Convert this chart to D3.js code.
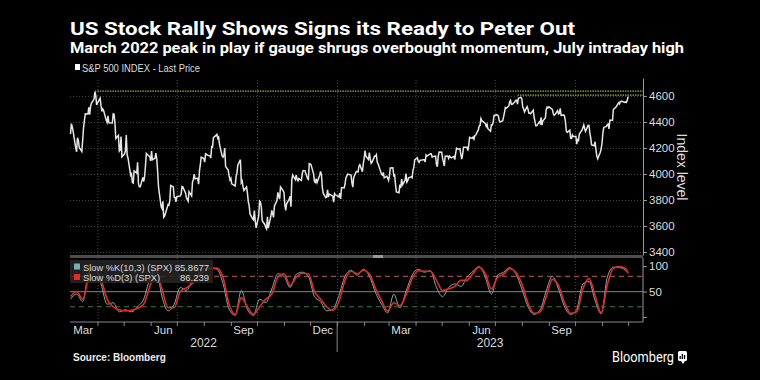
<!DOCTYPE html>
<html>
<head>
<meta charset="utf-8">
<script src="https://cdn.jsdelivr.net/npm/d3@7"></script>
<style>
    body { margin: 0; background: #000; }
    svg { display: block; background: #000; font-family: "Liberation Sans", Arial, sans-serif; }
</style>
</head>
<body>
<svg width="760" height="380"></svg>
<script>
// ---- data ----
const priceStart = "2022-03-01";
const holidays = ["2022-04-15", "2022-05-30", "2022-06-20", "2022-07-04", "2022-09-05",
    "2022-11-24", "2022-12-26", "2023-01-02", "2023-01-16", "2023-02-20", "2023-04-07",
    "2023-05-29", "2023-06-19", "2023-07-04", "2023-09-04", "2023-11-23"];

// S&P 500 daily closes, one row per month
const closes = [
    4306,4387,4363,4329,4201,4171,4278,4260,4204,4173,4262,4358,4412,4463,4461,4512,4456,4520,4543,4576,4632,4602,4530,
    4546,4583,4525,4481,4500,4488,4413,4397,4447,4393,4392,4462,4459,4394,4272,4296,4175,4184,4288,4132,
    4155,4175,4300,4147,4123,3991,4001,3935,3930,4024,4008,4089,3924,3901,3901,3974,3941,3979,4058,4158,4132,
    4101,4177,4109,4121,4161,4116,4018,3901,3750,3735,3790,3667,3675,3765,3760,3796,3912,3900,3822,3819,3785,
    3825,3831,3845,3903,3899,3854,3819,3802,3790,3863,3831,3937,3960,3999,3962,3967,3921,4024,4072,4130,
    4119,4091,4155,4152,4145,4140,4122,4210,4207,4280,4297,4305,4274,4284,4228,4138,4129,4141,4199,4058,4031,3986,3955,
    3967,3924,3908,3980,4006,4067,4110,3933,3946,3901,3873,3900,3856,3790,3758,3693,3655,3647,3719,3640,3586,
    3678,3791,3783,3745,3640,3612,3589,3577,3670,3583,3678,3720,3695,3666,3753,3797,3859,3831,3807,3901,3872,
    3856,3760,3720,3771,3807,3828,3749,3956,3993,3957,3992,3959,3947,3965,3950,4004,4027,4026,3964,3958,4080,
    4077,4072,3999,3941,3934,3964,3934,3991,4020,3995,3896,3852,3818,3822,3878,3822,3845,3829,3783,3849,3840,
    3824,3853,3808,3895,3892,3919,3970,3983,3999,3991,3929,3899,3973,4020,4017,4016,4060,4071,4018,4077,
    4119,4180,4136,4111,4164,4118,4082,4090,4137,4136,4148,4090,4079,3997,3991,4012,3970,3982,3970,
    3951,3981,4046,4048,3986,3992,3918,3862,3856,3919,3892,3960,3917,3952,4003,3937,3949,3971,3978,3971,4028,4051,4109,
    4125,4101,4090,4105,4109,4109,4092,4146,4138,4151,4155,4155,4130,4134,4137,4072,4056,4135,4169,
    4168,4120,4091,4061,4136,4138,4119,4138,4131,4124,4136,4110,4159,4198,4192,4193,4146,4115,4151,4205,4206,4180,
    4221,4282,4274,4284,4268,4294,4299,4339,4369,4373,4426,4410,4389,4366,4382,4348,4329,4378,4377,4396,4450,
    4456,4447,4412,4399,4410,4439,4472,4510,4505,4523,4555,4566,4535,4536,4555,4567,4567,4537,4582,4589,
    4577,4513,4502,4478,4518,4499,4468,4469,4464,4490,4438,4404,4370,4370,4400,4388,4436,4376,4406,4433,4498,4515,4508,
    4516,4497,4465,4451,4457,4487,4462,4467,4505,4450,4454,4444,4402,4330,4320,4337,4274,4275,4300,4288,
    4288,4229,4264,4258,4309,4336,4358,4377,4350,4328,4374,4373,4315,4278,4224,4217,4248,4187,4137,4117,4167,4194,
    4238,4318,4358,4366,4378,4383,4347,4415,4412,4496,4503,4508,4514,4547,4538,4557,4559,4550,4555,4551,4568,
    4595
];

const stochStart = "2022-03-01";
const stochLast = "2023-12-01";
const slowD = [40,50,35,80,95,75,35,20,14,12, 13,17,25,60,92,55,18,18,50,57,
    66,80,92,95,96,78,25,5,38,20, 5,20,35,45,78,85,62,78,86,85,
    50,35,20,13,30,72,90,85,92,85, 56,32,12,28,22,43,75,91,90,90,
    72,52,55,60,72,72,86,98,85,55, 78,84,95,88,65,27,7,10,40,74,
    62,28,7,10,55,76,42,8,63,96, 99,95,86.2];
const slowK = [35,45,30,88,96,65,25,28,10,14, 10,20,35,75,95,40,12,25,58,52,
    72,86,95,96,94,66,15,3,52,15, 3,35,28,55,85,80,58,84,88,80,
    40,30,12,15,42,80,92,82,94,80, 48,25,8,45,18,50,82,94,88,91,
    58,40,58,65,60,78,90,99,78,45, 82,88,97,85,55,20,5,14,52,80,
    55,20,5,15,65,70,32,6,78,98, 97,92,85.9];

const yTicks = [3400, 3600, 3800, 4000, 4200, 4400, 4600];
const oscTicks = [0, 50, 100];
const oscLevels = [80, 50, 20];
const marchPeak = { date: "2022-03-29", value: 4637 };
const julyHigh = { date: "2023-07-27", value: 4607 };
const years = ["2022", "2023"];

// ---- layout ----
let svg = d3.select("svg");
const X0 = 70, X1 = 643;
const TOP = 78, SEP = 255, LOW_TOP = 258, LOW_BOT = 322;

let parse = d3.utcParse("%Y-%m-%d");
let fmt = d3.utcFormat("%Y-%m-%d");

let x = d3.scaleUtc()
    .domain([parse("2022-03-01"), parse("2023-12-18")])
    .range([70.5, X1]);
let y = d3.scaleLinear().domain([3377, 4738]).range([SEP, TOP]);
let yo = d3.scaleLinear().domain([-10, 118]).range([LOW_BOT, 257]);

/**
* Trading days from priceStart, skipping weekends and exchange holidays
*/
let holidaySet = new Set(holidays);
let tradingDays = d3.utcDay.range(parse(priceStart), parse("2023-12-02"))
    .filter(d => d.getUTCDay() % 6 !== 0 && !holidaySet.has(fmt(d)));
let priceData = closes.map((c, i) => ({ date: tradingDays[i], close: c }));

let stochDates = slowD.map((v, i) =>
    i === slowD.length - 1 ? parse(stochLast) : d3.utcDay.offset(parse(stochStart), 7 * i));

let quarters = d3.utcMonth.range(parse("2022-03-02"), x.domain()[1])
    .filter(m => m.getUTCMonth() % 3 === 0);

// ---- titles ----
svg.append("text")
    .attr("x", 70).attr("y", 35)
    .attr("fill", "#fff")
    .style("font-family", "Roboto, sans-serif")
    .style("font-weight", 700).style("font-size", "19px")
    .attr("textLength", 505).attr("lengthAdjust", "spacingAndGlyphs")
    .text("US Stock Rally Shows Signs its Ready to Peter Out");

svg.append("text")
    .attr("x", 70).attr("y", 53)
    .attr("fill", "#fff")
    .style("font-family", "Roboto, sans-serif")
    .style("font-weight", 700).style("font-size", "15px")
    .attr("textLength", 614).attr("lengthAdjust", "spacingAndGlyphs")
    .text("March 2022 peak in play if gauge shrugs overbought momentum, July intraday high");

svg.append("rect")
    .attr("x", 75).attr("y", 64).attr("width", 5).attr("height", 6)
    .attr("fill", "#fff");
svg.append("text")
    .attr("x", 82).attr("y", 71.5)
    .attr("fill", "#ddd").style("font-size", "10px")
    .attr("textLength", 118).attr("lengthAdjust", "spacingAndGlyphs")
    .text("S&P 500 INDEX - Last Price");

// ---- grids ----
function styleGrid(g){
    g.select(".domain").remove();
    g.selectAll("line")
        .attr("stroke", "#4a4a4a")
        .attr("stroke-dasharray", "1,2");
}

svg.append("g")
    .attr("transform", `translate(0,${SEP})`)
    .call(d3.axisBottom(x).tickValues(quarters).tickSize(-(SEP - TOP)).tickFormat(""))
    .call(styleGrid);

svg.append("g")
    .attr("transform", `translate(0,${LOW_BOT})`)
    .call(d3.axisBottom(x).tickValues(quarters).tickSize(-(LOW_BOT - LOW_TOP)).tickFormat(""))
    .call(styleGrid);

svg.append("g")
    .attr("transform", `translate(${X0},0)`)
    .call(d3.axisLeft(y).tickValues(yTicks).tickSize(-(X1 - X0)).tickFormat(""))
    .call(styleGrid);

// ---- resistance lines ----
let levels = [marchPeak, julyHigh];
svg.append("g")
    .selectAll("line")
    .data(levels).enter().append("line")
        .attr("x1", d => x(parse(d.date)))
        .attr("x2", X1)
        .attr("y1", d => y(d.value))
        .attr("y2", d => y(d.value))
        .attr("stroke", "#8fb548")
        .attr("stroke-width", 1.3)
        .attr("stroke-dasharray", "1.5,1");

// ---- price ----
svg.append("path")
    .datum(priceData)
    .attr("fill", "none")
    .attr("stroke", "#e6e6e6")
    .attr("stroke-width", 1.5)
    .attr("d", d3.line().x(d => x(d.date)).y(d => y(d.close)));

// right axis for the price panel
let yAxis = svg.append("g")
    .attr("transform", `translate(${X1},0)`)
    .call(d3.axisRight(y).tickValues(yTicks).tickSize(4).tickSizeOuter(0).tickPadding(2)
        .tickFormat(d3.format("d")));
yAxis.select(".domain").attr("stroke", "#999");
yAxis.selectAll("line").attr("stroke", "#999");
yAxis.selectAll("text").attr("fill", "#ddd").style("font-size", "11.5px")
    .style("font-family", "'Liberation Sans', Arial, sans-serif");

svg.append("text")
    .attr("transform", "translate(677,167) rotate(90)")
    .attr("text-anchor", "middle")
    .attr("fill", "#ddd")
    .style("font-size", "14px")
    .text("Index level");

// separator between panels
svg.append("rect")
    .attr("x", X0).attr("y", SEP).attr("width", X1 - X0).attr("height", 3)
    .attr("fill", "#4d4d4d");
svg.append("rect")
    .attr("x", 373).attr("y", SEP).attr("width", 10).attr("height", 3)
    .attr("fill", "#9a9a9a");

// ---- oscillator panel ----
let levelStyle = { 80: ["#9a4b43", "5,4"], 50: ["#6b6b6b", null], 20: ["#3d7a3d", "5,4"] };
svg.append("g")
    .selectAll("line")
    .data(oscLevels).enter().append("line")
        .attr("x1", X0).attr("x2", X1)
        .attr("y1", d => yo(d)).attr("y2", d => yo(d))
        .attr("stroke", d => levelStyle[d][0])
        .attr("stroke-width", 1.2)
        .attr("stroke-dasharray", d => levelStyle[d][1]);

let oscLine = d3.line()
    .curve(d3.curveMonotoneX)
    .x((d, i) => x(stochDates[i]))
    .y(d => yo(d));

svg.append("path")
    .datum(slowK)
    .attr("fill", "none")
    .attr("stroke", "#79aeb4")
    .attr("stroke-width", 1)
    .attr("d", oscLine);

svg.append("path")
    .datum(slowD)
    .attr("fill", "none")
    .attr("stroke", "#e42a26")
    .attr("stroke-width", 1.6)
    .attr("d", oscLine);

// legend box for the oscillator
svg.append("rect")
    .attr("x", 70).attr("y", 260).attr("width", 143).attr("height", 23)
    .attr("fill", "#262626").attr("opacity", 0.85);

let oscLegend = [
    { name: "Slow %K(10,3) (SPX)", value: "85.8677", color: "#79aeb4", y: 270.5, len: 89 },
    { name: "Slow %D(3) (SPX)", value: "86.239", color: "#e42a26", y: 281, len: 77 }
];
let lg = svg.append("g").selectAll("g").data(oscLegend).enter().append("g");
lg.append("rect")
    .attr("x", 74).attr("y", d => d.y - 7).attr("width", 6).attr("height", 6)
    .attr("fill", d => d.color);
lg.append("text")
    .attr("x", 83).attr("y", d => d.y)
    .attr("fill", "#ddd").style("font-size", "9.5px")
    .attr("textLength", d => d.len).attr("lengthAdjust", "spacingAndGlyphs")
    .text(d => d.name);
lg.append("text")
    .attr("x", 209).attr("y", d => d.y)
    .attr("text-anchor", "end")
    .attr("fill", "#ddd").style("font-size", "9.5px")
    .text(d => d.value);

// right axis for the oscillator
let oAxis = svg.append("g")
    .attr("transform", `translate(${X1},0)`)
    .call(d3.axisRight(yo).tickValues(oscTicks).tickSize(4).tickSizeOuter(0).tickPadding(2)
        .tickFormat(d => d === 0 ? "" : d));
oAxis.select(".domain").attr("stroke", "#999").attr("d", `M0,${LOW_TOP}V${LOW_BOT}`);
oAxis.selectAll("line").attr("stroke", "#999");
oAxis.selectAll("text").attr("fill", "#ddd").style("font-size", "11.5px")
    .style("font-family", "'Liberation Sans', Arial, sans-serif");

// ---- time axis ----
let monthTicks = d3.utcMonth.range(parse("2022-03-02"), x.domain()[1]);
let xAxis = svg.append("g")
    .attr("transform", `translate(0,${LOW_BOT})`)
    .call(d3.axisBottom(x).tickValues(monthTicks).tickSize(4).tickSizeOuter(0).tickFormat(""));
xAxis.select(".domain").attr("stroke", "#888").attr("d", `M${X0},0H${X1}`);
xAxis.selectAll("line").attr("stroke", "#888");

// quarter-month labels, only where the data runs
let labelMonths = d3.utcMonth.range(parse("2022-03-01"), parse("2023-11-01"))
    .filter(m => m.getUTCMonth() % 3 === 2)
    .map(m => d3.utcDay.offset(m, 14));
let xLabels = svg.append("g")
    .attr("transform", `translate(0,${LOW_BOT})`)
    .call(d3.axisBottom(x).tickValues(labelMonths).tickSize(0).tickPadding(4)
        .tickFormat(d3.utcFormat("%b")));
xLabels.select(".domain").remove();
xLabels.selectAll("text").attr("fill", "#ddd").style("font-size", "11.5px")
    .style("font-family", "'Liberation Sans', Arial, sans-serif");

// year labels centred in each year's span
let yearStart = x(parse("2023-01-01"));
let yearSpans = [[X0, yearStart], [yearStart, X1]];
svg.append("g")
    .selectAll("text")
    .data(years).enter().append("text")
        .attr("x", (d, i) => (yearSpans[i][0] + yearSpans[i][1]) / 2)
        .attr("y", 347)
        .attr("text-anchor", "middle")
        .attr("fill", "#ddd")
        .style("font-size", "12px")
        .text(d => d);

svg.append("line")
    .attr("x1", yearStart).attr("x2", yearStart)
    .attr("y1", LOW_BOT).attr("y2", 352)
    .attr("stroke", "#888");

// ---- footer ----
svg.append("text")
    .attr("x", 73).attr("y", 361)
    .attr("fill", "#eee")
    .style("font-weight", 700).style("font-size", "10px")
    .text("Source: Bloomberg");

svg.append("text")
    .attr("x", 612).attr("y", 362)
    .attr("fill", "#fff")
    .style("font-family", "Roboto, sans-serif")
    .style("font-size", "14px")
    .attr("textLength", 62).attr("lengthAdjust", "spacingAndGlyphs")
    .text("Bloomberg");
svg.append("rect")
    .attr("x", 678).attr("y", 351).attr("width", 9).attr("height", 10).attr("rx", 1.5)
    .attr("fill", "#fff");
svg.append("g")
    .selectAll("rect")
    .data([3, 5, 4]).enter().append("rect")
        .attr("x", (d, i) => 679.5 + i * 2.2)
        .attr("y", d => 359 - d)
        .attr("width", 1.3)
        .attr("height", d => d)
        .attr("fill", "#000");
svg.append("path")
    .attr("d", "M681,361L683,364L685,361Z")
    .attr("fill", "#fff");
</script>
</body>
</html>
